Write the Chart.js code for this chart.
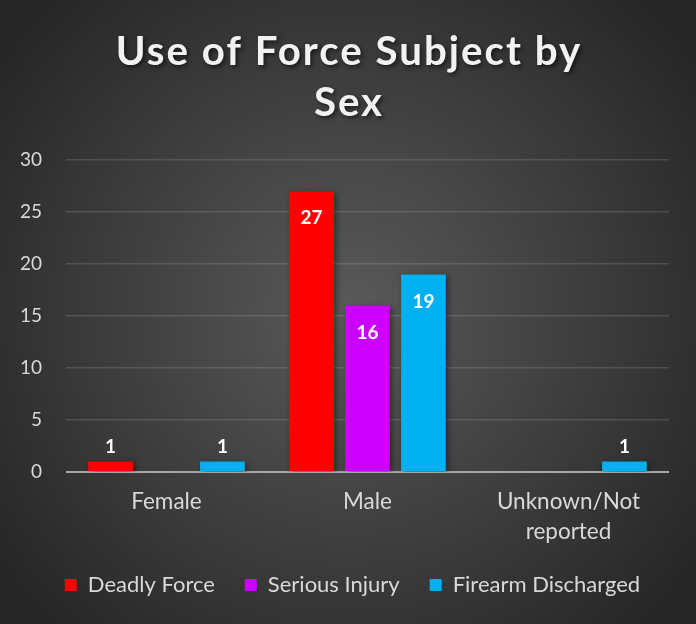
<!DOCTYPE html>
<html lang="en">
  <head>
    <meta charset="UTF-8" />
    <title>Use of Force Subject by Sex</title>
    <script src="https://cdn.jsdelivr.net/npm/chart.js"></script>
    <style>
      html, body { margin: 0; padding: 0; background: #262626; }
      canvas { display: block; }
    </style>
  </head>
  <body>
    <canvas id="forceChart" width="696" height="624"></canvas>
    <script>
      const categories = ["Female", "Male", ["Unknown/Not", "reported"]];
      const deadlyForce = [1, 27, 0];
      const seriousInjury = [0, 16, 0];
      const firearmDischarged = [1, 19, 1];
      const titleLines = ["Use of Force Subject by", "Sex"];
      const FONT = "Lato";

      // dark radial background like the office chart style
      const backgroundPlugin = {
        id: "bg",
        beforeDraw(chart) {
          const { ctx, width, height } = chart;
          const g = ctx.createRadialGradient(width / 2, height / 2, 0, width / 2, height / 2, Math.max(width, height) * 0.62);
          g.addColorStop(0, "#5a5a5a");
          g.addColorStop(1, "#262626");
          ctx.save();
          ctx.fillStyle = g;
          ctx.fillRect(0, 0, width, height);
          ctx.restore();
        },
      };

      const titlePlugin = {
        id: "bigTitle",
        afterDraw(chart) {
          const ctx = chart.ctx;
          ctx.save();
          ctx.letterSpacing = "2px";
          ctx.font = `bold 40px ${FONT}`;
          const w = ctx.measureText(titleLines[0]).width;
          const size = 40 * 467 / w;
          ctx.font = `bold ${size}px ${FONT}`;
          ctx.fillStyle = "#f2f2f2";
          ctx.textAlign = "center";
          ctx.textBaseline = "middle";
          ctx.shadowColor = "rgba(0,0,0,0.6)";
          ctx.shadowBlur = 4;
          ctx.shadowOffsetX = 2;
          ctx.shadowOffsetY = 2;
          ctx.fillText(titleLines[0], 349, 52);
          ctx.fillText(titleLines[1], 349, 103);
          ctx.restore();
        },
      };

      // legend in the original sits a bit right of the plot centre
      const legendShift = {
        id: "legendShift",
        afterLayout(chart) {
          if (chart.legend) {
            chart.legend.left += 18;
            chart.legend.right += 18;
          }
        },
      };

      const barShadow = {
        id: "barShadow",
        beforeDatasetsDraw(chart) {
          const ctx = chart.ctx;
          ctx.save();
          ctx.shadowColor = "rgba(0,0,0,0.45)";
          ctx.shadowBlur = 6;
          ctx.shadowOffsetX = 2;
          ctx.shadowOffsetY = 2;
        },
        afterDatasetsDraw(chart) {
          chart.ctx.restore();
        },
      };

      const valueLabels = {
        id: "valueLabels",
        afterDatasetsDraw(chart) {
          const ctx = chart.ctx;
          ctx.save();
          ctx.font = `bold 19px ${FONT}`;
          ctx.fillStyle = "#ffffff";
          ctx.textAlign = "center";
          ctx.textBaseline = "middle";
          chart.data.datasets.forEach((ds, i) => {
            chart.getDatasetMeta(i).data.forEach((bar, j) => {
              const v = ds.data[j];
              if (!v) return;
              const h = bar.base - bar.y;
              const y = h > 30 ? bar.y + 27 : bar.y - 15;
              ctx.fillText(String(v), bar.x, y);
            });
          });
          ctx.restore();
        },
      };

      new Chart(document.getElementById("forceChart"), {
        type: "bar",
        data: {
          labels: categories,
          datasets: [
            { label: "Deadly Force", data: deadlyForce, backgroundColor: "#ff0000" },
            { label: "Serious Injury", data: seriousInjury, backgroundColor: "#cc00ff" },
            { label: "Firearm Discharged", data: firearmDischarged, backgroundColor: "#00b0f0" },
          ],
        },
        options: {
          responsive: false,
          animation: false,
          layout: { padding: { top: 160, right: 27, left: 0, bottom: 18 } },
          datasets: { bar: { categoryPercentage: 0.835, barPercentage: 0.8 } },
          scales: {
            x: {
              grid: { display: false, drawTicks: false },
              border: { display: false },
              ticks: {
                color: "#d9d9d9",
                font: { family: FONT, size: 22.5, lineHeight: 1.333 },
                padding: 15,
                maxRotation: 0,
              },
              afterFit(scale) { scale.height = 72; },
            },
            y: {
              min: 0,
              max: 30,
              ticks: {
                stepSize: 5,
                color: "#d9d9d9",
                font: { family: FONT, size: 19 },
                padding: 24,
              },
              grid: {
                drawTicks: false,
                color: (c) => (c.tick && c.tick.value === 0 ? "#a6a6a6" : "rgba(255,255,255,0.13)"),
                lineWidth: (c) => (c.tick && c.tick.value === 0 ? 2 : 1.5),
              },
              border: { display: false },
              afterFit(scale) { scale.width = 66; },
            },
          },
          plugins: {
            legend: {
              position: "bottom",
              labels: {
                color: "#d9d9d9",
                font: { family: FONT, size: 22 },
                boxWidth: 12,
                boxHeight: 12,
                padding: 30,
              },
            },
            tooltip: { enabled: false },
          },
        },
        plugins: [backgroundPlugin, legendShift, barShadow, valueLabels, titlePlugin],
      });
    </script>
  </body>
</html>
